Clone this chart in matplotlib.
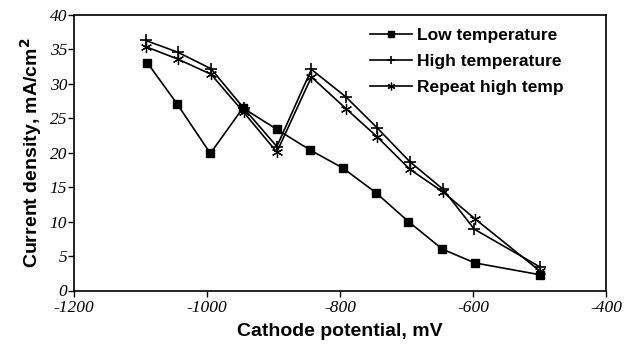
import matplotlib
matplotlib.use("Agg")
import matplotlib.pyplot as plt

# Data
low_x = [-1090, -1045, -995, -946, -895, -845, -796, -746, -697, -646, -597, -500]
low_y = [33.1, 27.1, 19.9, 26.5, 23.4, 20.4, 17.8, 14.2, 10.0, 6.0, 4.0, 2.3]

high_x = [-1092, -1044, -994, -945, -895, -843, -791, -744, -695, -645, -598, -499]
high_y = [36.3, 34.6, 32.2, 26.5, 20.9, 32.1, 28.1, 23.6, 18.7, 14.7, 8.9, 3.4]

rep_x = [-1092, -1044, -994, -945, -895, -843, -791, -744, -695, -645, -597, -499]
rep_y = [35.4, 33.6, 31.4, 25.9, 20.1, 31.0, 26.4, 22.3, 17.6, 14.3, 10.4, 2.8]

labels = ["Low temperature", "High temperature", "Repeat high temp"]
xticks = [-1200, -1000, -800, -600, -400]
yticks = [0, 5, 10, 15, 20, 25, 30, 35, 40]

fig = plt.figure(figsize=(6.35, 3.5), dpi=100)
ax = fig.add_axes([74/635, 1 - 290.5/350, (606-74)/635, (290.5-15)/350])

ax.plot(low_x, low_y, color="black", lw=1.2, marker="s", ms=6,
        mfc="black", mec="black", label=labels[0])
ax.plot(high_x, high_y, color="black", lw=1.2, marker="+", ms=9,
        mew=1.2, label=labels[1])
ax.plot(rep_x, rep_y, color="black", lw=1.2, marker=(6, 2, 0), ms=8,
        mew=0.9, label=labels[2])

ax.set_xlim(-1200, -400)
ax.set_ylim(0, 40)
ax.set_xticks(xticks)
ax.set_yticks(yticks)
tick_font = dict(family="Liberation Serif", style="italic", size=12.5)
ax.set_xticklabels([str(t) for t in xticks], **tick_font)
ax.set_yticklabels([str(t) for t in yticks], **tick_font)
ax.tick_params(axis="x", direction="out", length=4, width=1, pad=3)
ax.tick_params(axis="y", direction="out", length=4, width=1, pad=1)
for s in ax.spines.values():
    s.set_linewidth(1.2)

lab_font = dict(family="Liberation Sans", weight="bold", size=14)
ax.set_xlabel("Cathode potential, mV", labelpad=5, **lab_font)
ax.set_ylabel("Current density, mA/cm$^{\\mathbf{2}}$", labelpad=4, **lab_font)

leg = ax.legend(loc="upper right", bbox_to_anchor=(0.95, 1.01), frameon=False,
                prop=dict(family="Liberation Sans", weight="bold", size=12.5),
                handlelength=2.4, handletextpad=0.3, labelspacing=0.62,
                markerscale=0.7)

fig.savefig("out.png", dpi=100)
